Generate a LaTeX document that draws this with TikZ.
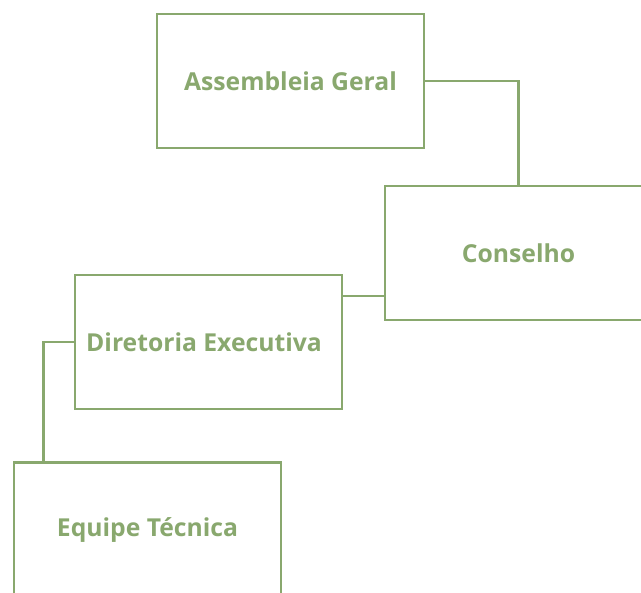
\documentclass[tikz,border=0pt]{standalone}
\usepackage{fontspec}
\setmainfont{Open Sans}
\definecolor{orggreen}{RGB}{137,168,110}

\tikzset{
  unit/.style={draw=orggreen, line width=2.8bp, fill=white,
    minimum width=267bp, minimum height=134bp, inner sep=0pt,
    text=orggreen, font=\fontsize{24.7bp}{29bp}\selectfont\bfseries},
  link/.style={draw=orggreen, line width=2.8bp}
}

\begin{document}
\begin{tikzpicture}[x=1bp, y=-1bp]

  \clip (0,0) rectangle (641,593);

  % boxes of the chart
  \node[unit] (assembleia) at (290.5,81) {Assembleia Geral};
  \node[unit] (conselho)   at (518.5,253) {Conselho};
  \node[unit] (diretoria)  at (208.5,342) {\hspace*{-9bp}Diretoria Executiva};
  \node[unit] (equipe)     at (147.5,529.5) {Equipe Técnica};

  % bends of the links
  \coordinate (j1) at (363,296);
  \coordinate (j2) at (43.5,400);

  \draw[link] (assembleia.east) -| (conselho.north);
  \draw[link] (conselho.west |- j1) -- (diretoria.east |- j1);
  \draw[link] (diretoria.west) -| (j2) -- (equipe.north -| j2);

\end{tikzpicture}
\end{document}
